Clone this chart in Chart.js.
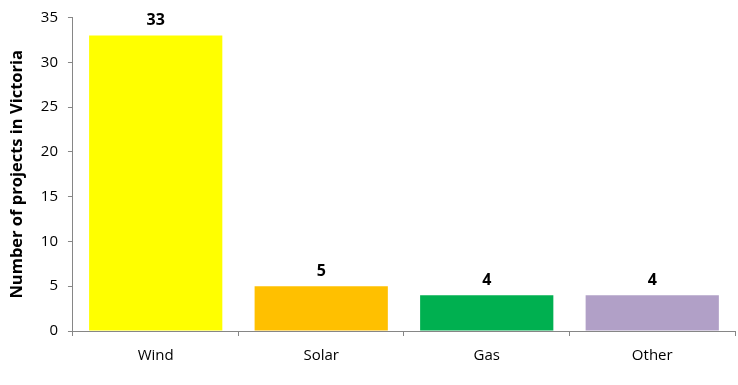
<!DOCTYPE html>
<html><head><meta charset="utf-8">
<script src="https://cdn.jsdelivr.net/npm/chart.js@4/dist/chart.umd.min.js"></script>
<style>html,body{margin:0;padding:0;background:#fff}#wrap{width:738px;height:385px}</style>
</head><body><div id="wrap"><canvas id="c"></canvas></div>
<script>
const categories = ["Wind", "Solar", "Gas", "Other"];
const projects = [33, 5, 4, 4];
const barColors = ["#FFFF00", "#FFC000", "#00B050", "#B1A0C7"];
const yTicks = [0, 5, 10, 15, 20, 25, 30, 35];
const yTitle = "Number of projects in Victoria";
const FONT = "'Open Sans', 'DejaVu Sans', sans-serif";

const labelPlugin = {
  id: 'valueLabels',
  afterDatasetsDraw(chart) {
    const ctx = chart.ctx;
    const meta = chart.getDatasetMeta(0);
    ctx.save();
    ctx.font = "bold 16px " + FONT;
    ctx.fillStyle = "#000";
    ctx.textAlign = "center";
    ctx.textBaseline = "bottom";
    meta.data.forEach((bar, i) => {
      ctx.fillText(String(projects[i]), bar.x, bar.y - 7);
    });
    ctx.restore();
  }
};

new Chart(document.getElementById('c'), {
  type: 'bar',
  data: {
    labels: categories,
    datasets: [{ data: projects, backgroundColor: barColors, borderWidth: 0,
      categoryPercentage: 1.0, barPercentage: 0.805 }]
  },
  options: {
    responsive: true, maintainAspectRatio: false, animation: false,
    layout: { padding: { top: 4, right: 3, left: 7, bottom: 9 } },
    plugins: { legend: { display: false }, tooltip: { enabled: false } },
    scales: {
      x: {
        grid: { display: true, drawOnChartArea: false, tickLength: 5, color: "#868686", offset: true },
        border: { color: "#868686", width: 1 },
        ticks: { color: "#000", font: { family: FONT, size: 15 }, padding: 11 }
      },
      y: {
        min: 0, max: 35,
        afterBuildTicks(axis) { axis.ticks = yTicks.map(v => ({ value: v })); },
        grid: { display: true, drawOnChartArea: false, tickLength: 5, color: "#868686" },
        border: { color: "#868686", width: 1 },
        ticks: { color: "#000", font: { family: FONT, size: 15, lineHeight: 1.0 }, padding: 10 },
        title: { display: true, text: yTitle, color: "#000", font: { family: FONT, size: 16.5, weight: 'bold' }, padding: { top: 0, bottom: 4 } }
      }
    }
  },
  plugins: [labelPlugin]
});
</script></body></html>
